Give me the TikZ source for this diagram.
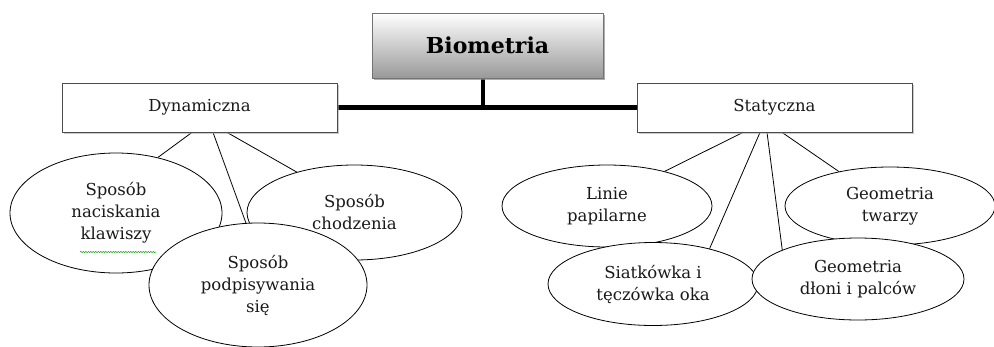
\documentclass[tikz,border=0pt]{standalone}
\usepackage{fontspec}
\setmainfont{DejaVu Serif}
\usetikzlibrary{shapes.geometric,shadows,decorations.pathmorphing,backgrounds}
\begin{document}
\begin{tikzpicture}[x=1pt,y=-1pt,
  txt/.style={font=\fontsize{16.5}{22}\selectfont, text=black!90},
  catbox/.style={draw=black!70, line width=0.8pt, fill=white, minimum width=275pt, minimum height=49pt, inner sep=0pt, txt,
     drop shadow={shadow xshift=2pt, shadow yshift=-2pt, fill=black!35, opacity=0.6}},
  rootbox/.style={draw=black!55, line width=0.8pt, top color=white, bottom color=black!40, minimum width=231pt, minimum height=65pt, inner sep=0pt,
     font=\fontsize{22}{26}\selectfont\bfseries, text=black,
     drop shadow={shadow xshift=2pt, shadow yshift=-2pt, fill=black!45, opacity=0.7}},
  leaf/.style={ellipse, draw=black, line width=0.8pt, fill=white, inner sep=0pt, align=center, txt},
  link/.style={draw=black, line width=0.8pt},
  bar/.style={draw=black, line width=5pt}
]
\useasboundingbox (0,0) rectangle (994,346);

\node[rootbox] (bio) at (487.5,45.5) {Biometria};
\node[catbox] (dyn) at (199.5,107.5) {Dynamiczna};
\node[catbox] (sta) at (774.5,107.5) {Statyczna};

% leaves (left)
\node[leaf, minimum width=212pt, minimum height=120pt] (kl) at (116,213) {Sposób\\naciskania\\klawiszy};
\node[leaf, minimum width=215pt, minimum height=95pt] (ch) at (354.5,212.5) {Sposób\\chodzenia};
\node[leaf, minimum width=218pt, minimum height=124pt] (pod) at (258,285) {Sposób\\podpisywania\\się};
% leaves (right)
\node[leaf, minimum width=210pt, minimum height=82pt] (li) at (607,206) {Linie\\papilarne};
\node[leaf, minimum width=210pt, minimum height=78pt] (tw) at (890,206) {Geometria\\twarzy};
\node[leaf, minimum width=210pt, minimum height=83pt] (si) at (653,284) {Siatkówka i\\tęczówka oka};
\node[leaf, minimum width=212pt, minimum height=82pt] (dl) at (858,279) {Geometria\\dłoni i palców};

% spell-check underline
\coordinate (u1) at (80,252);
\coordinate (u2) at (156,252);
\draw[green!60!black, line width=0.5pt, decorate, decoration={snake, amplitude=0.6pt, segment length=2.5pt}] (u1) -- (u2);

\begin{scope}[on background layer]
  \draw[bar] (dyn.east) -- (sta.west);
  \draw[black, line width=4pt] ([xshift=-4.5pt]bio.south) -- ([xshift=-4.5pt]bio.south |- dyn.east);
  \draw[link] ([xshift=-7.5pt]dyn.south) -- (kl.53);
  \draw[link] ([xshift=13.5pt]dyn.south) -- (pod.101.7);
  \draw[link] ([xshift=27.5pt]dyn.south) -- (ch.145.4);
  \draw[link] ([xshift=-31.5pt]sta.south) -- (li.31);
  \draw[link] ([xshift=-14.5pt]sta.south) -- (si.32);
  \draw[link] ([xshift=-7.5pt]sta.south) -- (dl.159);
  \draw[link] ([xshift=7.5pt]sta.south) -- (tw.146);
\end{scope}
\end{tikzpicture}
\end{document}
